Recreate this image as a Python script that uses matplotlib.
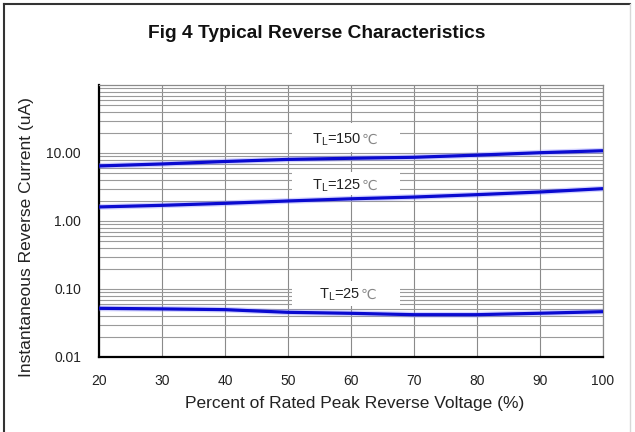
import matplotlib
matplotlib.use("Agg")
import matplotlib.pyplot as plt
from matplotlib.patches import Rectangle
from matplotlib.lines import Line2D

plt.rcParams['font.family'] = ['Liberation Sans', 'DejaVu Sans']
plt.rcParams['mathtext.fontset'] = 'custom'
plt.rcParams['mathtext.rm'] = 'Liberation Sans'
plt.rcParams['mathtext.it'] = 'Liberation Sans'

# ---- data ----
voltage_pct = [20, 30, 40, 50, 60, 70, 80, 90, 100]
current_150 = [6.45, 6.9, 7.5, 8.05, 8.36, 8.65, 9.3, 10.1, 10.8]
current_125 = [1.61, 1.70, 1.82, 1.97, 2.12, 2.25, 2.44, 2.67, 2.99]
current_25 = [0.052, 0.051, 0.0497, 0.0454, 0.0439, 0.0419, 0.0419, 0.0440, 0.0464]

x_ticks = [20, 30, 40, 50, 60, 70, 80, 90, 100]
y_ticks = [0.01, 0.1, 1, 10]
y_tick_labels = ["0.01", "0.10", "1.00", "10.00"]

labels = ["150", "125", "25"]
label_x = [57.8, 57.8, 58.2]
label_y = [15.6, 3.25, 0.0830]
box_y = [(10.3, 27.6), (2.44, 5.31), (0.0562, 0.131)]

title = "Fig 4 Typical Reverse Characteristics"
xlabel = "Percent of Rated Peak Reverse Voltage (%)"
ylabel = "Instantaneous Reverse Current (uA)"

# ---- figure ----
fig = plt.figure(figsize=(6.35, 4.32), dpi=100)
ax = fig.add_axes([99 / 635, 75 / 432, 504 / 635, 272 / 432])

ax.set_yscale('log')
ax.set_xlim(20, 100)
ax.set_ylim(0.01, 100)
ax.set_xticks(x_ticks)
ax.set_xticklabels([str(v) for v in x_ticks])
ax.set_yticks(y_ticks)
ax.set_yticklabels(y_tick_labels)
ax.tick_params(axis='both', which='both', length=0, labelsize=10, labelcolor='#222222')
ax.tick_params(axis='x', pad=12)
ax.tick_params(axis='y', pad=13)

ax.grid(True, which='major', axis='x', color='#8a8a8a', lw=0.8, zorder=1)
ax.grid(True, which='both', axis='y', color='#9a9a9a', lw=0.8, zorder=1)
ax.set_axisbelow(True)

for s in ['left', 'bottom']:
    ax.spines[s].set_linewidth(1.6)
    ax.spines[s].set_color('black')
for s in ['top', 'right']:
    ax.spines[s].set_linewidth(0.9)
    ax.spines[s].set_color('#8a8a8a')

# white label boxes
for (y0, y1) in box_y:
    ax.add_patch(Rectangle((50.7, y0), 67.8 - 50.7, y1 - y0,
                           facecolor='white', edgecolor='none', zorder=2))

for ys in [current_150, current_125, current_25]:
    ax.plot(voltage_pct, ys, color='#8080ff', lw=4.2, alpha=0.35, zorder=3,
            solid_capstyle='butt')
    ax.plot(voltage_pct, ys, color='#0a0ad0', lw=2.3, zorder=4,
            solid_capstyle='butt')

for lab, lx, ly in zip(labels, label_x, label_y):
    t = ax.text(lx, ly, r"T$_\mathrm{L}$=" + lab, ha='center', va='center',
                fontsize=10.5, color='#222222', zorder=5)
    ax.annotate("\u2103", xy=(1.0, 0.5), xycoords=t, ha='left', va='center',
                fontsize=10, color='#888888', zorder=5,
                family=['DejaVu Sans'])

ax.set_xlabel(xlabel, fontsize=12.5, color='#222222')
ax.set_ylabel(ylabel, fontsize=12.5, color='#222222')
ax.xaxis.set_label_coords(0.508, -0.145)
ax.yaxis.set_label_coords(-0.128, 0.44)
fig.text(317 / 635, 1 - 33 / 432, title, ha='center', va='center',
         fontsize=13.8, fontweight='bold', color='#111111')

# figure frame
fig.add_artist(Line2D([4 / 635, 4 / 635], [0, 1 - 4 / 432], transform=fig.transFigure,
                      color='#333333', lw=1.5))
fig.add_artist(Line2D([4 / 635, 630 / 635], [1 - 4 / 432, 1 - 4 / 432],
                      transform=fig.transFigure, color='#333333', lw=1.5))
fig.add_artist(Line2D([630 / 635, 630 / 635], [0, 1 - 4 / 432], transform=fig.transFigure,
                      color='#d8d8d8', lw=1.0))

fig.savefig("out.png", dpi=100)
